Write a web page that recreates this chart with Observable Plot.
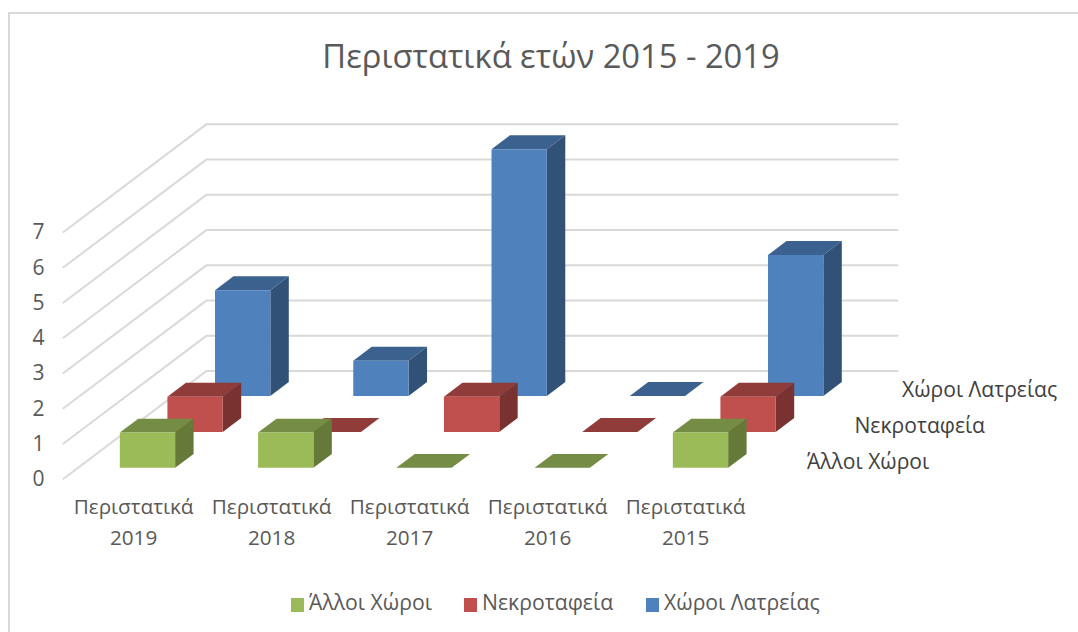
<!DOCTYPE html>
<html lang="el">
<head>
<meta charset="utf-8">
<script src="https://cdn.jsdelivr.net/npm/d3@7"></script>
<script src="https://cdn.jsdelivr.net/npm/@observablehq/plot@0.6"></script>
<style>
  html, body { margin: 0; padding: 0; background: #fff; }
  #chart { position: relative; width: 1078px; height: 632px; overflow: hidden; font-family: "Open Sans", sans-serif; }
  #frame { position: absolute; left: 8px; top: 12px; right: 0; bottom: 0; border-left: 2px solid #d9d9d9; border-top: 2px solid #d9d9d9; }
  #title { position: absolute; left: 0; width: 1102px; top: 33px; text-align: center; font-size: 32.7px; line-height: 46px; color: #595959; }
  #plot { position: absolute; left: 0; top: 80px; }
  #legend { position: absolute; top: 588px; left: 291px; height: 28px; font-size: 21.2px; line-height: 28px; color: #595959; }
  #legend span.item { position: absolute; top: 0; white-space: nowrap; }
  #legend i { position: absolute; top: 10px; width: 13px; height: 14px; }
  #legend b { position: absolute; font-weight: 400; left: 18px; top: 0; }
</style>
</head>
<body>
<div id="chart">
  <div id="frame"></div>
  <div id="title">Περιστατικά ετών 2015 - 2019</div>
  <div id="plot"></div>
  <div id="legend"></div>
</div>
<script>
// Data
const categories = ["Περιστατικά\n2019", "Περιστατικά\n2018", "Περιστατικά\n2017", "Περιστατικά\n2016", "Περιστατικά\n2015"];
const seriesNames = ["Άλλοι Χώροι", "Νεκροταφεία", "Χώροι Λατρείας"];
const alloiXoroi = [1, 1, 0, 0, 1];
const nekrotafeia = [1, 0, 1, 0, 1];
const xoroiLatreias = [3, 1, 7, 0, 4];
const yTicks = [0, 1, 2, 3, 4, 5, 6, 7];

// Colours: front, top, side
const colors = [
  {front: "#9BBB59", top: "#748C43", side: "#657A39"},
  {front: "#C0504D", top: "#903C3A", side: "#793230"},
  {front: "#4F81BD", top: "#3B618E", side: "#325177"}
];
const values = [alloiXoroi, nekrotafeia, xoroiLatreias];

// Oblique projection: category units on x, value units on y; depth in series slots
const catPx = 138.25, unitPx = 35.25, originX = 63, originY = 478.3;
const kx = 47.6 / catPx, ky = 35.9 / unitPx;
const px = (i, d) => i + d * kx;
const py = (v, d) => v + d * ky;

// Bar footprint inside a slot
const a0 = 0.302, a1 = 0.702, d0 = 0.306, d1 = 0.694;

const faces = [];
for (let s = seriesNames.length - 1; s >= 0; --s) {
  values[s].forEach((v, c) => {
    const [l, r, f, b] = [c + a0, c + a1, s + d0, s + d1];
    const add = (name, color, pts) => pts.forEach(([x, y]) =>
      faces.push({key: `${s}-${c}-${name}`, color, x, y}));
    add("top", colors[s].top, [[px(l, f), py(v, f)], [px(r, f), py(v, f)], [px(r, b), py(v, b)], [px(l, b), py(v, b)]]);
    if (v > 0) {
      add("side", colors[s].side, [[px(r, f), py(0, f)], [px(r, b), py(0, b)], [px(r, b), py(v, b)], [px(r, f), py(v, f)]]);
      add("front", colors[s].front, [[px(l, f), py(0, f)], [px(r, f), py(0, f)], [px(r, f), py(v, f)], [px(l, f), py(v, f)]]);
    }
  });
}

// Gridlines: up the left wall and along the back wall
const grid = yTicks.flatMap(v => [
  {v, x: px(0, 0), y: py(v, 0)},
  {v, x: px(0, 3), y: py(v, 3)},
  {v, x: px(categories.length, 3), y: py(v, 3)}
]);

const catLabels = categories.map((t, i) => ({t, x: i + 0.507 - i * 0.0018, y: -1.16}));
const seriesLabels = seriesNames.map((t, s) => ({t, x: px(categories.length + 0.205, s + 0.5), y: py(0, s + 0.5) - 0.03}));

const top0 = 80, h = 500, w = 1078, ml = 44;
const chart = Plot.plot({
  width: w, height: h,
  marginLeft: ml, marginRight: 0, marginTop: 0, marginBottom: 0,
  style: {fontFamily: '"Open Sans", sans-serif', background: "transparent", overflow: "visible"},
  x: {axis: null, domain: [(ml - originX) / catPx, (w - originX) / catPx], range: [ml, w]},
  y: {axis: null, domain: [(originY - top0 - h) / unitPx, (originY - top0) / unitPx], range: [h, 0]},
  color: {type: "identity"},
  marks: [
    Plot.line(grid, {x: "x", y: "y", z: "v", stroke: "#d9d9d9", strokeWidth: 2}),
    Plot.line(faces, {x: "x", y: "y", z: "key", fill: "color", stroke: "none"}),
    Plot.axisY(yTicks, {anchor: "left", tickSize: 0, tickPadding: 0, label: null, tickFormat: d3.format("d"), fontSize: 21, fill: "#595959", dy: 0.5}),
    Plot.text(catLabels, {x: "x", y: "y", text: "t", fontSize: 20.7, lineHeight: 1.5, fill: "#595959", textAnchor: "middle"}),
    Plot.text(seriesLabels, {x: "x", y: "y", text: "t", fontSize: 21.1, fill: "#404040", textAnchor: "start"})
  ]
});
document.getElementById("plot").appendChild(chart);

// Legend
const legendLeft = [0, 173, 355];
const legend = document.getElementById("legend");
seriesNames.forEach((n, s) => {
  const item = document.createElement("span");
  item.className = "item";
  item.style.left = legendLeft[s] + "px";
  item.innerHTML = `<i style="background:${colors[s].front}"></i><b>${n}</b>`;
  legend.appendChild(item);
});
</script>
</body>
</html>
